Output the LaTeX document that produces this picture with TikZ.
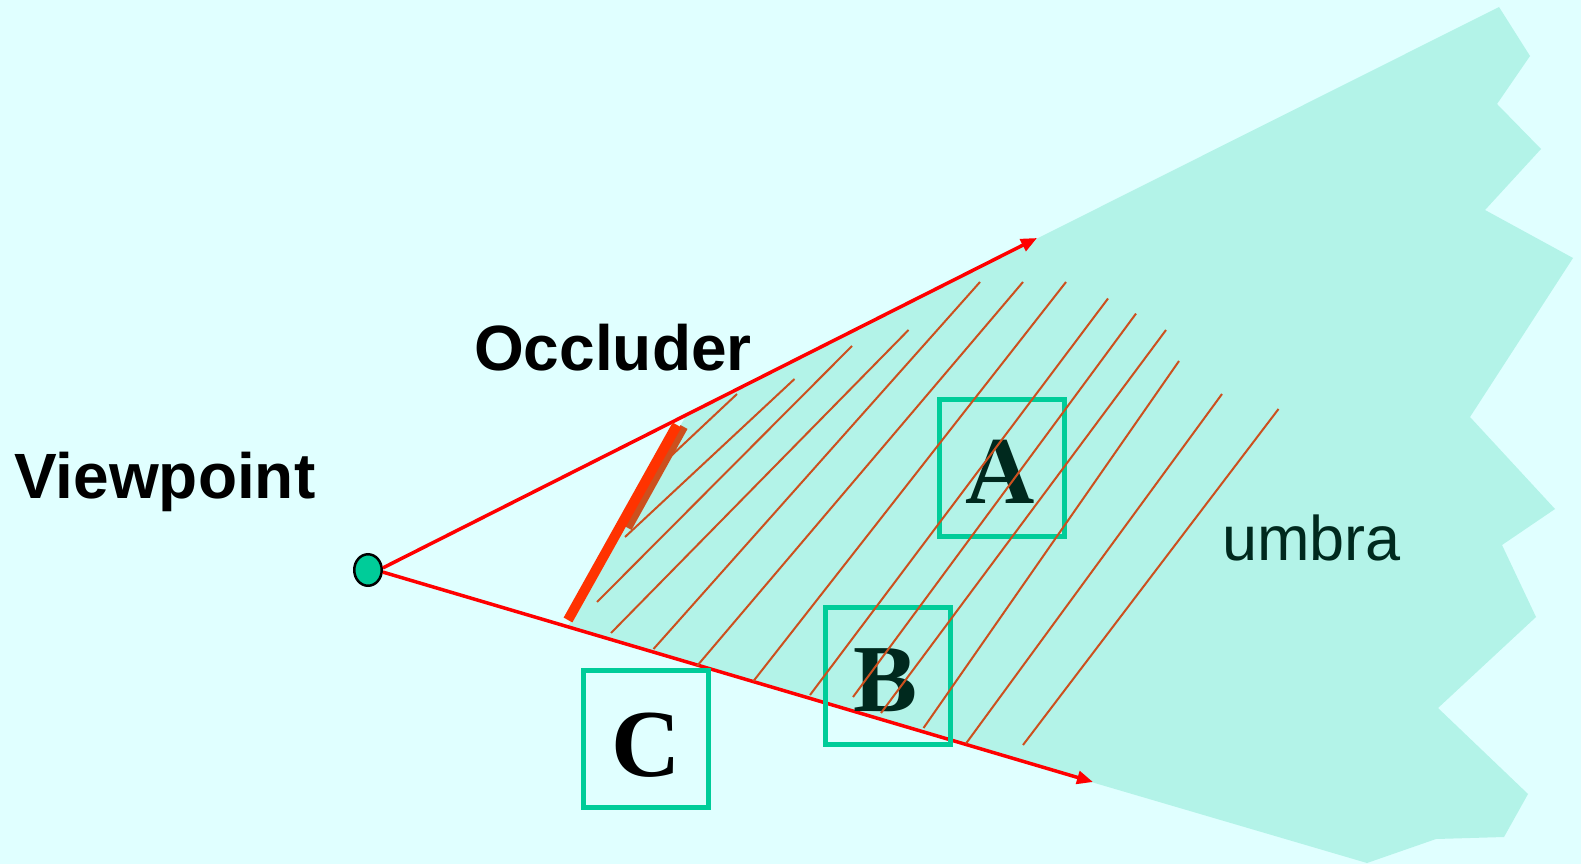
\documentclass[tikz,border=0pt]{standalone}
\usepackage{fontspec}
\setmainfont{Liberation Serif}
\setsansfont{Liberation Sans}
\usetikzlibrary{arrows.meta,shapes.geometric}
\definecolor{bg}{RGB}{224,255,255}
\definecolor{umbrafill}{RGB}{179,243,232}
\definecolor{raycol}{RGB}{255,0,0}
\definecolor{occl}{RGB}{255,51,0}
\definecolor{hatchc}{RGB}{204,80,30}
\definecolor{boxc}{RGB}{0,204,153}
\definecolor{darkg}{RGB}{0,41,30}
\begin{document}
\begin{tikzpicture}[x=1pt,y=-1pt,
  raystyle/.style={draw=raycol, line width=3.5pt, -{Triangle[length=16pt,width=13pt]}},
  hatchline/.style={draw=hatchc, line width=2pt},
  boxstyle/.style={draw=boxc, line width=5pt, minimum width=125pt, minimum height=137pt, inner sep=0pt},
  biglabel/.style={font=\sffamily\bfseries\fontsize{64}{70}\selectfont, inner sep=0pt, anchor=base west},
  letter/.style={font=\rmfamily\bfseries\fontsize{96}{100}\selectfont, inner sep=0pt, anchor=base},
]
\useasboundingbox (0,0) rectangle (1581,864);
\fill[bg] (0,0) rectangle (1581,864);
% umbra
\fill[umbrafill] (687,414) -- (1499,7) -- (1530,56) -- (1497,104) -- (1541,149) -- (1485,210)
  -- (1573,258) -- (1470,417) -- (1555,509) -- (1502,545) -- (1536,617) -- (1438,708)
  -- (1528,794) -- (1504,837) -- (1436,839) -- (1367,863) -- (567,628) -- cycle;
% viewpoint
\node[ellipse, draw=black, line width=2.5pt, fill=boxc, minimum width=27.5pt, minimum height=31.5pt, inner sep=0pt] (vp) at (368,570) {};
\coordinate (tipU) at (1037,238);
\coordinate (tipL) at (1093,782);
\draw[raystyle] (vp.8) -- (tipU);
\draw[raystyle] (vp.-8) -- (tipL);
% boxes
\node[boxstyle] (boxA) at (1001.5,467.5) {};
\node[boxstyle] (boxB) at (887.5,675.5) {};
\node[boxstyle] (boxC) at (646,739) {};
\node[letter, text=darkg] (la) at (1000,503) {A};
\node[letter, text=darkg] (lb) at (886,711) {B};
\node[letter, text=black] (lc) at (646,776) {C};
% hatch lines
\foreach \xa/\ya/\xb/\yb in {737/394/671/456, 794.5/379/625/537, 852/346/597/602,
  908.5/330/611/633, 980/282/653.5/649, 1023/282/697/666, 1066/282/753.5/681,
  1108/298.5/810/695, 1136/313.6/853/697, 1166/330/881/713, 1179/361/923.5/728,
  1222/394/966/743.5, 1278.5/409/1023/745}
  \draw[hatchline] (\xa,\ya) -- (\xb,\yb);
% occluder
\draw[draw=hatchc, line width=8pt] (684,427) -- (628,528);
\draw[draw=occl, line width=10pt] (677,425) -- (568,620);
% texts
\node[biglabel] (vptext) at (14,498) {Viewpoint};
\node[biglabel] (octext) at (474,370) {Occluder};
\node[font=\sffamily\fontsize{63}{70}\selectfont, text=darkg, inner sep=0pt, anchor=base west] (umtext) at (1222,560) {umbra};
\end{tikzpicture}
\end{document}
